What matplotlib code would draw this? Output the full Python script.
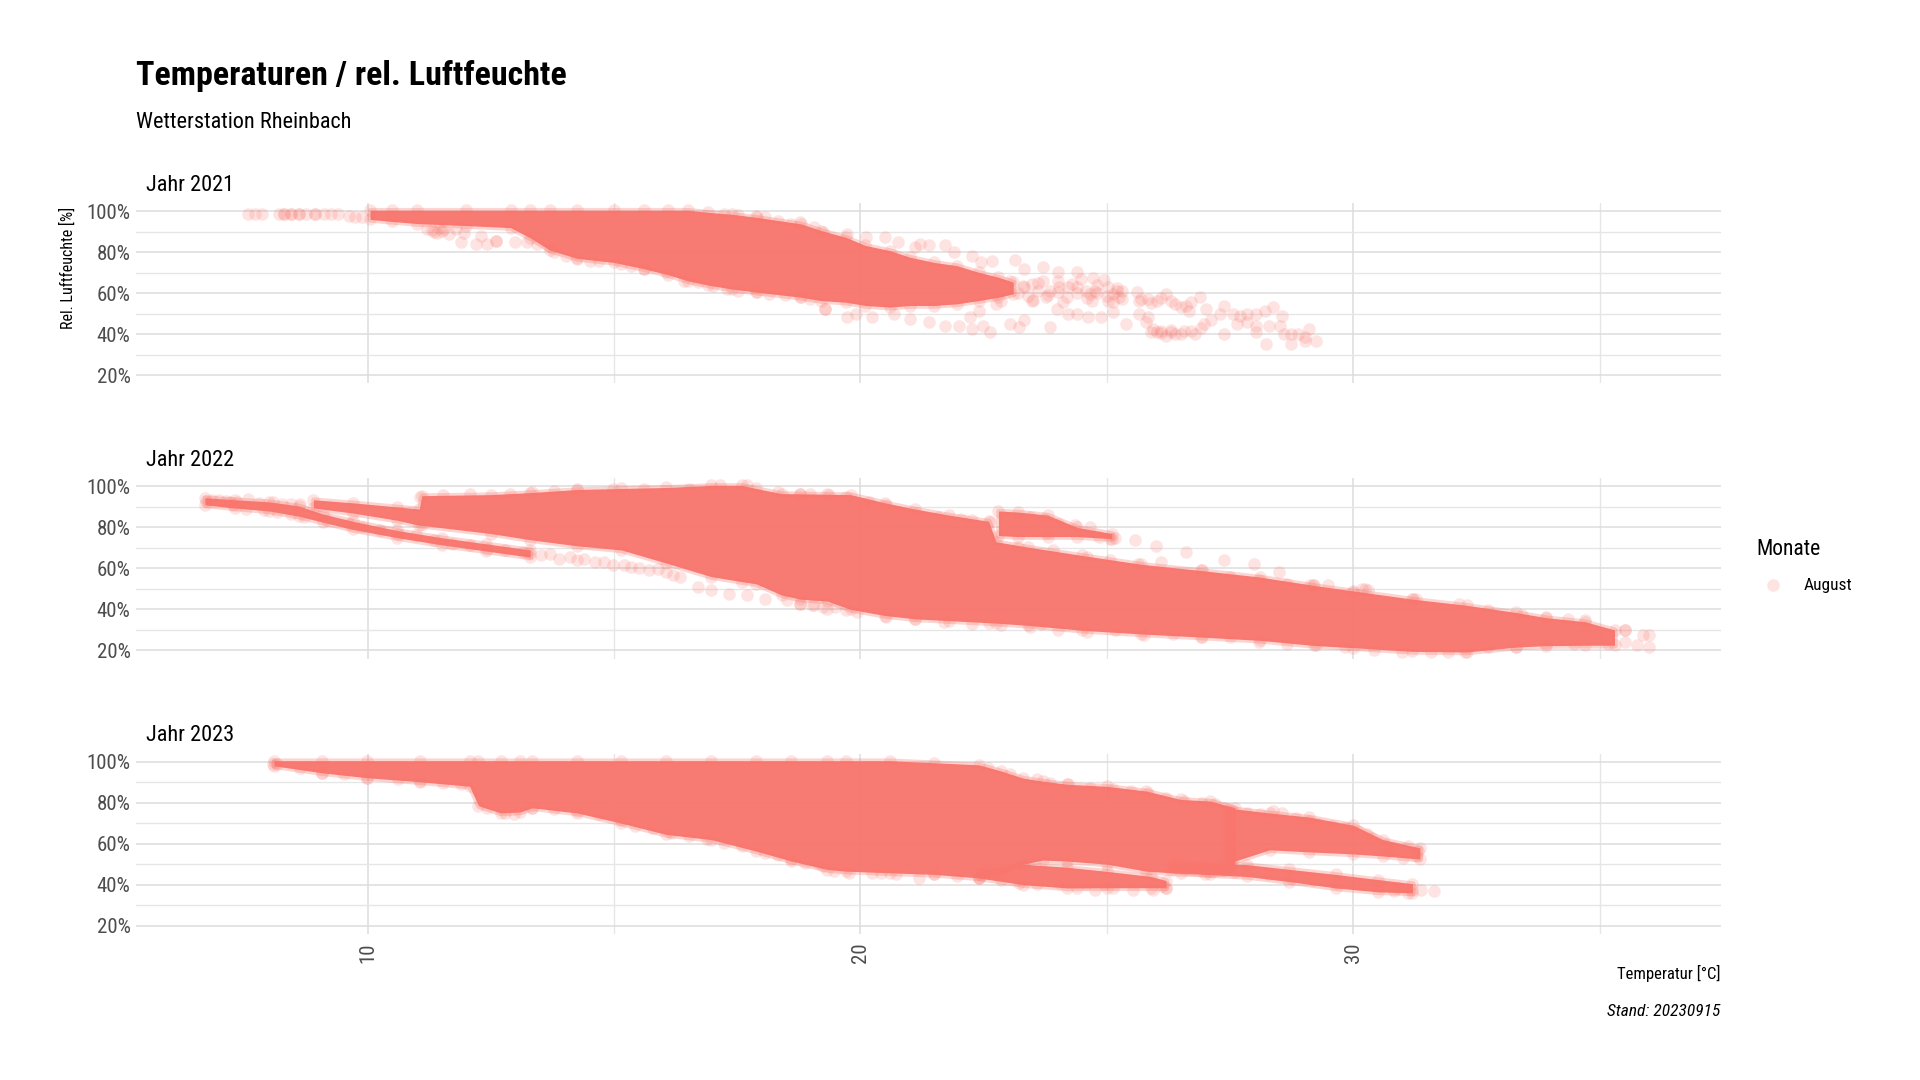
import matplotlib.pyplot as plt
from matplotlib.ticker import FuncFormatter

plt.rcParams['font.family'] = ['Liberation Sans Narrow', 'Roboto Condensed', 'DejaVu Sans']

SALMON = '#F8766D'
years = ['Jahr 2021', 'Jahr 2022', 'Jahr 2023']

# ---- 2021: dense core (temp, low/high humidity) + loose points ----
core21_t = [10.05, 10.5, 11.0, 12.0, 12.9, 13.3, 13.7, 14.25, 15.0, 15.6, 16.1, 16.5, 16.9, 17.4, 17.9,
            18.8, 19.2, 19.7, 20.1, 20.6, 21.0, 21.5, 21.95, 22.4, 22.8, 23.1]
core21_lo = [96, 95, 94, 93, 92, 87, 81, 77, 75, 72, 69, 66, 64, 62, 60.5,
             58, 56.4, 55.6, 54, 53.2, 54, 54, 54.8, 56.4, 58, 59.7]
core21_hi = [100.5, 100.5, 100.5, 100.5, 100.5, 100.5, 100.5, 100.5, 100.5, 100.5, 100.5, 100.5, 99.5, 98.5, 97,
             93.8, 90.6, 87.3, 83.3, 80.8, 77.6, 75, 73.5, 70.2, 67.8, 65.4]

pts21_t = [7.58, 7.71, 7.85, 8.21, 8.3, 8.3, 8.44, 8.44, 8.6, 8.6, 8.76, 8.94, 8.94, 9.12, 9.26, 9.39, 9.62, 9.75, 9.89,
           11.2, 11.3, 11.35, 11.4, 11.45, 11.5, 11.55, 11.65, 11.8, 11.95,
           11.89, 12.2, 12.3, 12.43, 12.61, 12.61, 12.99, 13.23, 13.43, 13.66,
           13.79, 14.02, 14.25, 14.52, 14.7, 15.15, 15.34, 15.61, 15.79, 16.06, 16.42, 16.7, 17.01, 17.29, 17.51,
           17.88, 18.15, 18.47, 18.78, 18.97, 19.28,
           17.24, 17.51, 17.88, 18.06, 18.33, 18.6, 18.78, 19.06, 19.24,
           19.73, 20.12, 20.5, 20.77, 21.11, 21.2, 21.39, 21.72, 21.9, 22.26, 22.45, 22.67, 23.13, 23.31, 23.71,
           24.01, 24.39, 24.71, 24.94,
           23.03, 23.31, 23.49, 23.71, 23.85, 24.03, 24.21, 24.3, 24.48, 24.57, 24.66, 24.76, 25.03, 25.12, 25.21,
           25.3, 25.03, 25.12, 25.25,
           23.2, 23.4, 23.6, 23.8, 24.0, 24.2, 24.4, 24.6, 24.8, 25.0, 23.3, 23.6, 24.0, 24.4, 24.8, 25.2,
           23.5, 24.1, 24.7, 25.3,
           23.03, 23.22, 23.31, 23.85, 23.99, 24.21, 24.39, 24.62, 24.89, 25.12, 25.39, 22.76, 22.85, 23.49, 23.76,
           19.28, 19.73, 19.91, 20.23, 20.68, 21.0, 21.4, 21.72, 21.99, 22.26, 22.49, 22.63, 22.22, 22.4,
           25.62, 25.66, 25.84, 26.02, 26.2, 26.39, 26.61, 26.88, 27.02, 27.38, 27.29, 27.56, 27.7, 27.84, 28.02,
           28.2, 28.38, 28.56, 25.66, 25.8, 25.93, 26.02, 26.2, 26.39, 26.57, 26.79, 26.97, 27.11, 27.38, 27.65,
           27.84, 28.02, 28.29, 28.51, 28.02, 28.22, 28.6, 28.74, 28.74, 28.88, 29.01, 29.1, 29.24, 29.01, 26.66,
           25.84, 26.1, 26.3,
           25.7, 25.9, 26.1, 26.3, 26.5, 26.7, 25.9, 26.1, 26.3, 26.5, 26.7, 26.9]
pts21_h = [98.7, 98.7, 98.7, 98.7, 98.7, 98.7, 98.7, 98.7, 98.7, 98.7, 98.7, 98.7, 98.7, 98.7, 98.7, 98.7, 97.9, 97.1, 97.1,
           91.5, 91, 90, 89.5, 92, 90.5, 91.5, 89, 91.5, 89.5,
           84.9, 84.1, 88.1, 84.1, 85.7, 85.7, 84.9, 84.9, 84.1, 83.3,
           80, 78.4, 76.7, 75.9, 75.9, 74.3, 73.5, 71.9, 73.5, 70.2, 66.2, 65.4, 63.7, 62.1, 61.3,
           60.5, 59.7, 58.9, 58, 57.2, 52.4,
           98.7, 98.4, 97.9, 97.1, 95.4, 93.8, 94.6, 92.2, 89.8,
           88.9, 87.3, 87.3, 84.9, 82.4, 84.1, 83.3, 83.3, 80, 78.4, 75.1, 75.9, 76.3, 71.9, 72.7,
           70.2, 70.2, 67.5, 66.5,
           66.2, 62.9, 64.6, 66.2, 61.3, 62.9, 62.9, 64.6, 67, 61.3, 59.7, 61.3, 62.9, 59.7, 61.3,
           61.3, 56.4, 55.6, 58,
           60, 58.5, 61, 59, 60.5, 58, 60, 57.5, 60, 58.5, 63.5, 65, 66, 63, 64, 62.5,
           56.5, 55.5, 56, 57,
           45, 43.4, 46.7, 43.4, 52.4, 49.9, 49.9, 48.3, 48.3, 50.7, 45, 54.8, 56.4, 56.4, 58,
           52.4, 48.3, 49.9, 48.3, 49.9, 47.5, 45.9, 44.2, 44.2, 42.6, 44.2, 41, 48.3, 51.5,
           60.5, 56.4, 57.2, 56.4, 59.7, 54.8, 54, 58, 52.4, 54, 49.9, 49.9, 49.1, 49.9, 49.9,
           51.5, 53.2, 49.1, 49.9, 45.9, 42.6, 41, 39.3, 40.2, 41.8, 40.2, 45, 46.7, 40.2, 45,
           45.9, 44.2, 44.2, 44.2, 41, 35.3, 40.2, 40.2, 35.3, 40.2, 38.5, 42.6, 36.9, 36.9, 51.5,
           48.3, 41.5, 41,
           57, 55, 57.5, 56, 53.5, 55.5, 41, 40.5, 42, 40, 41.5, 43]

# ---- 2022 ----
low22_t = [6.7, 7.3, 8.0, 8.6, 9.1, 9.7, 10.6, 11.5, 12.4, 13.3]
low22_lo = [91, 89.5, 88, 85.5, 82.5, 79, 75, 71.5, 68.5, 65.5]
low22_hi = [94.5, 93.5, 92.5, 90.5, 86.5, 83, 78.5, 75, 72, 69]

core22_t = [8.9, 9.7, 10.6, 11.05, 11.1, 12.5, 13.3, 14.25, 15.15, 16.06, 16.97, 17.6, 17.88, 18.4, 18.78,
            19.33, 19.8, 20.5, 21.1, 21.8, 22.6, 22.75, 23.4, 24.5, 25.7, 26.9, 28.1, 29.2, 30.0, 31.2,
            32.3, 33.3, 33.9, 34.7, 35.3]
core22_lo = [89.5, 87, 83.5, 81, 81, 77, 74, 71, 69, 62.6, 56, 53.5, 52.5, 47, 45,
             44, 40, 37, 35.4, 34.5, 33.5, 33.3, 32.2, 29.8, 28, 26.5, 24.9, 22.4, 21.3, 19.5,
             19.2, 21.6, 22.3, 22.5, 22.5]
core22_hi = [93.5, 92, 90, 89, 95.5, 96, 97, 98.5, 99, 99.5, 100.5, 100.5, 99, 96.5, 96.4,
             96.2, 96, 92, 89, 86, 83, 73, 70.4, 66.3, 62, 59, 55.8, 51.7, 49, 45,
             42, 38.5, 36, 34, 30]

up22_t = [22.8, 23.2, 23.8, 24.4, 25.1]
up22_lo = [76, 75.5, 75.5, 75.5, 74.5]
up22_hi = [88, 87.5, 86, 80, 77]

pts22_t = [6.72, 6.85, 6.99, 7.12, 7.21, 7.35, 7.58, 7.8, 8.08, 8.26, 8.44, 8.62,
           7.26, 7.53, 7.89, 8.17, 8.44, 8.71, 9.17, 9.62, 9.89, 10.25, 10.62, 10.98, 11.34, 11.71, 12.07,
           12.43, 12.79, 13.16, 13.52, 13.88, 14.25, 14.61, 14.97, 15.34, 15.7, 16.06, 16.33, 16.7, 16.97,
           17.33, 17.7, 18.06, 18.51, 18.78, 19.06, 19.33,
           13.3, 13.7, 14.1, 14.4, 14.8, 15.2, 15.5, 15.9, 16.2,
           11.07, 11.52, 12.07, 12.89, 13.34, 13.79, 14.25, 14.97, 15.61, 16.52, 17.15, 17.7, 18.33, 18.97,
           18.78, 19.36, 19.71, 20.06, 20.17, 20.52, 20.76, 21.1, 21.57, 22.03, 22.27, 22.62,
           23.2, 23.9, 24.59, 25.06, 25.64, 26.1, 26.92, 27.5, 28.08, 28.66, 29.13, 30.0, 30.23, 31.22, 32.15,
           32.73, 33.43, 33.9, 34.36, 34.71, 35.52,
           25.58, 25.99, 26.6, 27.38, 27.99, 28.49, 29.48, 29.19, 30.17, 30.29, 31.28,
           24.01, 24.36, 24.65, 23.55, 23.78, 24.83, 25.06, 25.17, 22.91, 23.2, 23.43, 23.72,
           18.78, 19.01, 19.24, 19.48, 19.71, 19.94, 20.52, 21.1, 21.69, 22.27, 22.85, 23.43, 23.66, 24.01,
           24.59, 25.17, 25.76, 26.34, 26.92, 27.5, 28.08, 28.66, 29.24, 29.83, 30.41, 30.99, 31.57, 31.92,
           32.27, 32.73, 33.31, 33.9, 34.48, 35.17, 35.52, 35.76, 35.99, 35.87, 35.52, 35.99]
pts22_h = [92.8, 93.2, 93.5, 92.8, 92.4, 92.4, 94, 92, 92.4, 91.5, 91.5, 91.5,
           90.7, 89.1, 88.3, 87.5, 86.7, 85, 83.4, 81.8, 80.2, 78.5, 76.9, 76.1, 73.7, 72, 71.2,
           69.6, 68.8, 68, 66.3, 64.7, 63.9, 63.1, 61.5, 60.7, 59, 58.2, 55.8, 50.9, 49.3,
           47.6, 46.8, 45.2, 44.4, 42.8, 42, 40.3,
           67.5, 67, 65.5, 64.5, 63, 61.5, 60, 59.5, 57,
           94.8, 95.6, 96.1, 96.4, 97.2, 98, 98.4, 98.9, 98.9, 98.9, 100.5, 100.5, 97.2, 96.4,
           96.4, 95.6, 94.8, 91.5, 92.4, 90.7, 87.5, 86.7, 85, 84.2, 83.4, 82.6,
           70.4, 68.8, 65.5, 63.9, 62.3, 63.1, 59, 55.8, 54.1, 52.5, 51.7, 48.5, 50.1, 45.2, 42.8,
           39.5, 37.1, 36.3, 35.4, 34.6, 29.8,
           74, 70.7, 68, 63.9, 62, 58.2, 51.7, 51.7, 50.1, 49.3, 45.2,
           81.8, 81, 80.2, 79, 77.5, 75.3, 74.5, 75, 85, 83.4, 85, 84.2,
           42.8, 42, 41.1, 41.1, 39.5, 38.7, 36.3, 35.4, 33.8, 33, 32.2, 31.4, 33, 29.8,
           28.9, 29.8, 27.3, 28.1, 26.5, 26.5, 24.1, 23.3, 22.4, 21.6, 20, 19.2, 19.2, 19.2,
           19.2, 21.6, 21.6, 23.3, 23.3, 23.3, 24.1, 22.4, 21.6, 27.3, 29.8, 27.3]

# ---- 2023 ----
a23_t = [8.1, 9.07, 9.98, 11.07, 12.07, 12.25, 12.7, 13.1, 13.34, 14.25, 15.15, 16.06, 16.97, 17.88, 18.6,
         19.33, 19.7, 20.6, 21.5, 22.4, 22.85, 23.3, 23.7, 24.2, 25.0, 25.8, 26.5, 27.1, 27.6]
a23_lo = [98, 94.6, 92.2, 90.2, 88, 78.5, 75, 75.5, 77.5, 75, 70, 64.5, 62, 56.4, 51.5,
          47.4, 46.6, 45.8, 45, 43.3, 45, 50, 52, 51.5, 50, 46.6, 45.5, 45, 46]
a23_hi = [100.5, 100.5, 100.5, 100.5, 100.5, 100.5, 100.5, 100.5, 100.5, 100.5, 100.5, 100.5, 100.5, 100.5, 100.5,
          100.5, 100.5, 100.5, 99.5, 98.5, 95.5, 92, 90.5, 89, 88, 85.7, 81.6, 80.8, 77.5]

d23_t = [22.4, 23.3, 24.2, 25.0, 25.9, 26.2]
d23_lo = [43.3, 40, 38.4, 38.5, 38.5, 38.5]
d23_hi = [47, 50, 48.5, 46.5, 44, 42]

b23_t = [27.4, 28.3, 29.1, 30.0, 30.6, 31.35]
b23_lo = [50, 57, 56, 55, 54, 52.5]
b23_hi = [77.5, 75, 73, 69, 62, 58]

c23_t = [26.3, 27.0, 27.84, 28.7, 29.65, 30.5, 31.2]
c23_lo = [47, 45, 44, 41.5, 38.4, 36.5, 36]
c23_hi = [51, 50.5, 49.8, 47.5, 45, 42.5, 40.5]

pts23_t = [8.08, 8.17, 8.62, 9.07, 9.53, 9.98, 10.62, 11.07, 11.52, 11.89, 12.25, 12.43, 12.79, 12.98, 13.34,
           13.79, 14.25, 14.7, 15.15, 15.43, 15.79, 16.15, 16.52, 16.88, 17.24, 17.6, 18.06, 18.33, 18.6, 18.87,
           19.24,
           19.14, 19.46, 19.77, 20.23, 20.41, 20.72, 21.18, 21.49, 21.95, 22.4, 22.85, 23.22, 23.58, 24.03, 24.39,
           24.76, 25.12, 25.53, 25.93, 26.2, 26.11, 24.57, 24.94,
           22.58, 23.03, 23.58, 23.85, 24.21, 24.66, 25.12, 25.48, 25.84, 26.2, 26.57, 26.93, 27.2, 27.47,
           27.84, 28.11, 28.38, 28.56, 28.83, 29.1, 29.28, 29.56, 29.83, 30.1, 30.28, 30.37, 30.64, 30.82, 31.1,
           31.32, 31.28, 31.0, 30.73,
           26.57, 26.93, 27.38, 27.84, 28.29, 28.74, 29.19, 29.65, 30.1, 30.55, 30.91, 31.19, 31.37, 31.64,
           31.1, 30.82]
pts23_h = [99, 99, 97.1, 94.6, 93.8, 92.2, 91.4, 90.6, 89.7, 88.9, 85.7, 77.5, 75.1, 74.3, 77.5,
           76.7, 75.9, 74.3, 71.8, 68.6, 67.8, 65.3, 63.7, 62.1, 60.4, 58.8, 55.5, 54.7, 52.3, 50.7,
           49,
           50.7, 46.6, 45.8, 45.8, 45.8, 45, 43.3, 45, 44.1, 43.3, 42.5, 40.9, 40.1, 40.9, 38.4,
           37.6, 38.4, 37.6, 37.6, 38.4, 39.3, 40.1, 40.1,
           97.1, 93.8, 91.4, 89.7, 88.9, 87.3, 86.5, 85.7, 84.9, 82.4, 80.8, 80, 79.2, 76.7,
           75.1, 74.3, 75.9, 75.1, 72.6, 71, 69.4, 68.6, 67.8, 66.1, 64.5, 62.9, 59.6, 58, 58.8,
           56.4, 53.9, 53.1, 56.4,
           50.7, 48.2, 47.4, 46.6, 45, 43.3, 42.5, 40.9, 40.1, 39.3, 38.4, 37.6, 37.6, 36.8,
           36, 36.8]

bands = [
    [(core21_t, core21_lo, core21_hi)],
    [(low22_t, low22_lo, low22_hi), (core22_t, core22_lo, core22_hi), (up22_t, up22_lo, up22_hi)],
    [(a23_t, a23_lo, a23_hi), (d23_t, d23_lo, d23_hi), (b23_t, b23_lo, b23_hi), (c23_t, c23_lo, c23_hi)],
]
points = [(pts21_t, pts21_h), (pts22_t, pts22_h), (pts23_t, pts23_h)]

fig = plt.figure(figsize=(19.2, 10.8), dpi=100)
bottoms = [0.645, 0.3902, 0.1353]
sc = None
for i, b in enumerate(bottoms):
    ax = fig.add_axes([0.0708, b, 0.8253, 0.167])
    for t, lo, hi in bands[i]:
        ax.fill_between(t, lo, hi, facecolor=(0.973, 0.463, 0.427, 0.96),
                        edgecolor=(0.973, 0.463, 0.427, 0.3), linewidth=4, zorder=2)
        # band outline points, so the edges look like the scattered circles
        ax.scatter(t + t, lo + hi, s=82, color=SALMON, alpha=0.2, linewidths=0, zorder=3)
    sc = ax.scatter(points[i][0], points[i][1], s=82, color=SALMON, alpha=0.2, linewidths=0, zorder=3)
    ax.set_xlim(5.30, 37.45)
    ax.set_ylim(16, 104)
    ax.set_yticks([20, 40, 60, 80, 100])
    ax.set_yticks([30, 50, 70, 90], minor=True)
    ax.set_xticks([10, 20, 30])
    ax.set_xticks([15, 25, 35], minor=True)
    ax.yaxis.set_major_formatter(FuncFormatter(lambda v, p: f'{v:.0f}%'))
    ax.grid(which='major', color='#dcdcdc', linewidth=1.1, zorder=0)
    ax.grid(which='minor', color='#e6e6e6', linewidth=1.0, zorder=0)
    ax.set_axisbelow(True)
    for s in ax.spines.values():
        s.set_visible(False)
    ax.tick_params(which='both', length=0)
    ax.tick_params(axis='y', labelsize=15, labelcolor='#4d4d4d', pad=4)
    if i < 2:
        ax.tick_params(axis='x', labelbottom=False)
    else:
        ax.tick_params(axis='x', labelsize=15, labelcolor='#4d4d4d', labelrotation=90, pad=6)
    ax.text(0.0063, 1.067, years[i], transform=ax.transAxes, fontsize=16, va='baseline', ha='left')

fig.text(0.0708, 0.9212, 'Temperaturen / rel. Luftfeuchte', fontsize=24.5, fontweight='bold', va='baseline')
fig.text(0.0708, 0.8812, 'Wetterstation Rheinbach', fontsize=16, va='baseline')
fig.text(0.0353, 0.752, 'Rel. Luftfeuchte [%]', fontsize=11.5, rotation=90, va='center', ha='center')
fig.text(0.8961, 0.0936, 'Temperatur [°C]', fontsize=12, ha='right', va='baseline')
fig.text(0.8961, 0.0597, 'Stand: 20230915', fontsize=12.5, style='italic', ha='right', va='baseline')

fig.text(0.9146, 0.4864, 'Monate', fontsize=15.5, va='baseline', ha='left')
fig.legend([sc], ['August'], loc='center left', bbox_to_anchor=(0.9187, 0.458),
           frameon=False, fontsize=12.5, borderpad=0, borderaxespad=0, handletextpad=1.3,
           handlelength=1.0)

fig.savefig('out.png', dpi=100)
